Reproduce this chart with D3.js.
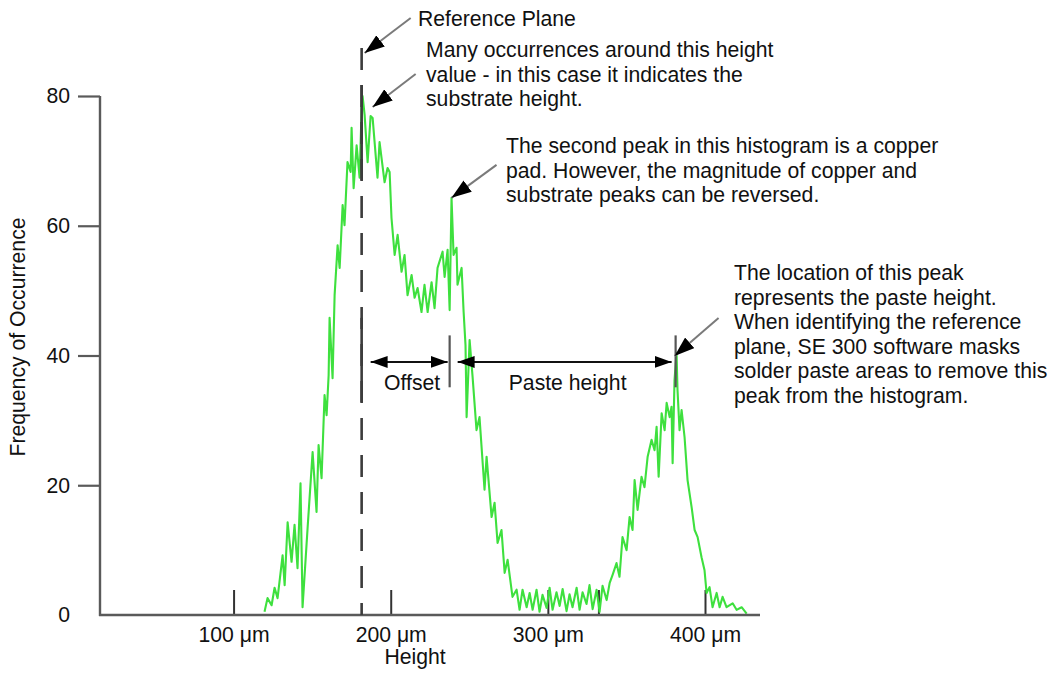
<!DOCTYPE html>
<html>
<head>
<meta charset="utf-8">
<script src="https://cdn.jsdelivr.net/npm/d3@7"></script>
<style>
  html, body { margin: 0; padding: 0; background: #fff; }
  svg { display: block; font-family: "Liberation Sans", Arial, sans-serif; }
</style>
</head>
<body>
<svg id="chart" width="1051" height="673"></svg>
<script>
// Height histogram of a scanned board: height bins (µm) and their counts
const heightUm = [
  119.7, 121.6, 124.2, 126.1, 128.0, 131.2, 132.5, 134.4, 136.9, 138.8,
  140.7, 142.6, 143.9, 147.1, 150.3, 152.8, 154.1, 156.0, 157.9, 159.2,
  160.5, 161.1, 163.0, 164.3, 166.2, 167.5, 169.4, 170.6, 172.5, 174.5,
  175.1, 176.4, 178.3, 180.2, 181.5, 182.1, 183.4, 185.3, 187.2, 188.5,
  191.6, 192.9, 196.1, 198.0, 199.3, 200.5, 202.5, 204.4, 206.9, 208.8,
  210.7, 213.3, 215.2, 217.1, 219.6, 221.5, 223.5, 226.0, 227.9, 229.8,
  233.0, 234.3, 236.2, 237.5, 238.7, 240.0, 241.9, 242.5, 245.1, 246.4,
  247.6, 248.3, 250.2, 252.1, 254.6, 256.5, 259.7, 261.0, 264.2, 266.1,
  268.0, 270.5, 272.5, 274.4, 277.5, 280.1, 282.0, 283.9, 286.5, 288.4,
  290.3, 292.8, 294.7, 296.6, 299.2, 301.1, 303.0, 305.5, 307.5, 309.4,
  311.9, 313.8, 315.7, 318.3, 320.2, 322.1, 324.6, 326.5, 328.5, 331.0,
  332.9, 334.8, 337.4, 339.3, 341.2, 343.7, 345.6, 347.5, 350.1, 352.0,
  353.9, 355.2, 357.1, 359.6, 361.5, 363.5, 366.0, 367.9, 369.2, 370.5,
  372.4, 374.3, 375.6, 377.5, 378.7, 379.4, 380.6, 381.9, 382.5, 383.8,
  385.1, 387.0, 388.9, 391.5, 393.4, 395.3, 397.8, 399.7, 401.0, 402.9,
  404.8, 407.4, 409.3, 411.2, 413.7, 417.6, 420.1, 423.3, 426.5
];
const frequency = [
  0.5, 2.6, 1.5, 4.2, 2.6, 9.2, 4.6, 14.3, 8.2, 13.9,
  7.2, 20.3, 1.2, 13.4, 25.1, 15.9, 26.2, 21.1, 33.9, 30.8,
  37.0, 45.8, 36.5, 49.3, 57.0, 53.5, 63.2, 60.1, 69.8, 68.3,
  75.1, 65.8, 72.4, 67.4, 78.1, 80.0, 77.1, 69.8, 76.9, 76.6,
  67.4, 72.9, 66.7, 68.9, 68.3, 61.2, 55.5, 58.6, 52.9, 55.5,
  49.3, 52.4, 48.9, 50.4, 46.7, 50.9, 46.7, 51.3, 47.3, 53.5,
  56.0, 52.1, 56.3, 47.0, 64.3, 55.5, 56.6, 50.9, 53.5, 46.7,
  41.6, 30.5, 42.4, 36.7, 28.5, 30.5, 19.3, 24.4, 15.1, 17.3,
  11.1, 13.1, 6.5, 8.5, 2.8, 3.9, 0.8, 3.9, 1.2, 3.4,
  0.8, 3.9, 0.5, 3.1, 1.1, 4.2, 0.8, 3.5, 1.4, 4.0,
  0.6, 3.2, 1.2, 4.2, 0.8, 3.5, 1.7, 4.6, 0.9, 3.9,
  0.5, 4.5, 2.3, 4.9, 6.2, 8.0, 5.9, 12.0, 10.0, 15.1,
  13.1, 20.8, 16.2, 21.3, 19.7, 24.4, 27.0, 25.4, 29.0, 21.3,
  31.1, 28.5, 32.7, 30.5, 32.1, 23.4, 36.2, 40.4, 34.7, 28.5,
  31.6, 27.4, 20.8, 16.6, 13.1, 12.0, 8.9, 6.9, 3.4, 4.3,
  1.2, 3.4, 1.2, 2.8, 1.2, 1.8, 0.8, 1.2, 0.2
];

// Axis ticks
const xTickValues = [100, 200, 300, 400];
const xTickLabels = ["100 μm", "200 μm", "300 μm", "400 μm"];
const xExtraTicks = [332.5];
const yTickValues = [0, 20, 40, 60, 80];

// Key heights marked on the chart (µm)
const referencePlane = 181.5;
const copperPeak = [238.7, 64.3];
const substratePeak = [188.5, 78.3];
const pasteMarker = 381.3;
const offsetMarker = 237.5;
const pastePeak = [381.9, 40.4];

const svg = d3.select("#chart");
const x = d3.scaleLinear().domain([15, 435]).range([100, 760]);
const y = d3.scaleLinear().domain([0, 80]).range([615, 96]);

const AXIS = "#5a5a5a";
const INK = "#111";
const FONT = 21.2;

// Arrow head marker definitions
const defs = svg.append("defs");
function headMarker(id, len, half) {
  defs.append("marker")
    .attr("id", id)
    .attr("viewBox", `0 0 ${len} ${half * 2}`)
    .attr("refX", len).attr("refY", half)
    .attr("markerWidth", len).attr("markerHeight", half * 2)
    .attr("markerUnits", "userSpaceOnUse")
    .attr("orient", "auto-start-reverse")
    .append("path")
    .attr("d", `M0,0 L${len},${half} L0,${half * 2} Z`)
    .attr("fill", "#000");
}
headMarker("callout", 20, 7);
headMarker("span", 17, 6);

// Y axis
const yAxis = d3.axisLeft(y).tickValues(yTickValues).tickSize(22).tickPadding(8).tickSizeOuter(0);
const gy = svg.append("g").attr("transform", "translate(100,0)").call(yAxis);
gy.select(".domain").remove();
gy.selectAll(".tick line").attr("stroke", AXIS).attr("stroke-width", 2.2)
  .filter(d => d === 0).remove();
gy.selectAll(".tick text").attr("font-size", FONT).attr("fill", INK)
  .attr("font-family", "Liberation Sans, Arial, sans-serif");
svg.append("line")
  .attr("x1", 100).attr("x2", 100).attr("y1", y(80)).attr("y2", y(0) + 1)
  .attr("stroke", AXIS).attr("stroke-width", 2.4);

// X axis (ticks point up into the plot)
const xAxis = d3.axisBottom(x).tickValues(xTickValues)
  .tickFormat((d, i) => xTickLabels[i]).tickSize(-25).tickPadding(12).tickSizeOuter(0);
const gx = svg.append("g").attr("transform", `translate(0,${y(0)})`).call(xAxis);
gx.select(".domain").remove();
gx.selectAll(".tick line").attr("stroke", "#333").attr("stroke-width", 2);
gx.selectAll(".tick text").attr("font-size", FONT).attr("fill", INK)
  .attr("font-family", "Liberation Sans, Arial, sans-serif");
svg.append("g").selectAll("line").data(xExtraTicks).join("line")
  .attr("x1", d => x(d)).attr("x2", d => x(d))
  .attr("y1", y(0)).attr("y2", y(0) - 25)
  .attr("stroke", "#333").attr("stroke-width", 2);

// Axis titles
svg.append("text").attr("x", 415).attr("y", 664).attr("text-anchor", "middle")
  .attr("font-size", FONT).attr("fill", INK).text("Height");
svg.append("text").attr("transform", "translate(25,337) rotate(-90)")
  .attr("text-anchor", "middle").attr("font-size", FONT).attr("fill", INK)
  .text("Frequency of Occurrence");

// Histogram trace
const points = heightUm.map((h, i) => [h, frequency[i]]);
svg.append("path")
  .datum(points)
  .attr("fill", "none")
  .attr("stroke", "#3ee03e")
  .attr("stroke-width", 2.1)
  .attr("stroke-linejoin", "round")
  .attr("d", d3.line().x(d => x(d[0])).y(d => y(d[1])));

// Baseline drawn over the trace
svg.append("line")
  .attr("x1", 99).attr("x2", x(435)).attr("y1", y(0)).attr("y2", y(0))
  .attr("stroke", AXIS).attr("stroke-width", 2.4);

// Reference plane: dashed with solid stretches at the substrate peak and the span marker
const refX = x(referencePlane);
svg.append("line")
  .attr("x1", refX).attr("x2", refX).attr("y1", y(87.4)).attr("y2", y(0))
  .attr("stroke", "#3c3c3c").attr("stroke-width", 2.6).attr("stroke-dasharray", "22,15");
[[67, 81.7], [32.8, 45.8]].forEach(([lo, hi]) => {
  svg.append("line")
    .attr("x1", refX).attr("x2", refX).attr("y1", y(hi)).attr("y2", y(lo))
    .attr("stroke", "#3c3c3c").attr("stroke-width", 2.6);
});

// Offset and paste height span markers
[offsetMarker, pasteMarker].forEach(v => {
  svg.append("line")
    .attr("x1", x(v)).attr("x2", x(v)).attr("y1", y(43.1)).attr("y2", y(35.1))
    .attr("stroke", "#555").attr("stroke-width", 2.2);
});
const spanY = y(39.0);
const spans = [
  { from: refX + 9, to: x(offsetMarker) - 2, label: "Offset" },
  { from: x(offsetMarker) + 8, to: x(pasteMarker) - 4, label: "Paste height" }
];
spans.forEach(s => {
  svg.append("line")
    .attr("x1", s.from).attr("x2", s.to).attr("y1", spanY).attr("y2", spanY)
    .attr("stroke", "#111").attr("stroke-width", 2)
    .attr("marker-start", "url(#span)").attr("marker-end", "url(#span)");
  svg.append("text")
    .attr("x", (s.from + s.to) / 2 + 3).attr("y", spanY + 28)
    .attr("text-anchor", "middle").attr("font-size", FONT).attr("fill", INK)
    .text(s.label);
});

// Callouts: a grey leader with a black head pointing at a feature, and a text block
const callouts = [
  { at: [referencePlane, 87.4], dx: 46, dy: -35, headGap: [3, 5],
    tx: 418, ty: 26, lines: ["Reference Plane"] },
  { at: substratePeak, dx: 43, dy: -33, headGap: [0, 0],
    tx: 426, ty: 57, lines: ["Many occurrences around this height",
      "value - in this case it indicates the", "substrate height."] },
  { at: copperPeak, dx: 45, dy: -33, headGap: [0, 0],
    tx: 506, ty: 153, lines: ["The second peak in this histogram is a copper",
      "pad. However, the magnitude of copper and", "substrate peaks can be reversed."] },
  { at: pastePeak, dx: 44, dy: -38, headGap: [-2, 3],
    tx: 734, ty: 280, lines: ["The location of this peak", "represents the paste height.",
      "When identifying the reference", "plane, SE 300 software masks",
      "solder paste areas to remove this", "peak from the histogram."] }
];
callouts.forEach(c => {
  const hx = x(c.at[0]) + c.headGap[0];
  const hy = y(c.at[1]) + c.headGap[1];
  svg.append("line")
    .attr("x1", hx + c.dx).attr("y1", hy + c.dy).attr("x2", hx).attr("y2", hy)
    .attr("stroke", "#7a7a7a").attr("stroke-width", 2)
    .attr("marker-end", "url(#callout)");
  const t = svg.append("text").attr("x", c.tx).attr("y", c.ty)
    .attr("font-size", FONT).attr("fill", INK);
  c.lines.forEach((ln, i) => {
    t.append("tspan").attr("x", c.tx).attr("dy", i === 0 ? 0 : 24.5).text(ln);
  });
});
</script>
</body>
</html>
